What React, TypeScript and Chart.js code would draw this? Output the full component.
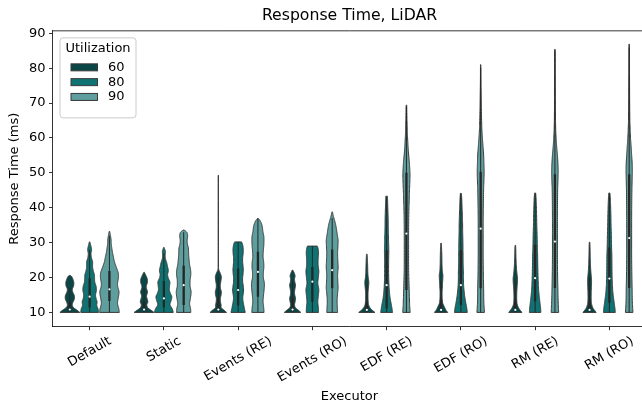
import React, { useEffect, useRef } from "react";
import { Chart, registerables } from "chart.js";

Chart.register(...registerables);

const categories = ["Default", "Static", "Events (RE)", "Events (RO)", "EDF (RE)", "EDF (RO)", "RM (RE)", "RM (RO)"];
const utilizations = ["60", "80", "90"];
const hueColors = ["#0b4646", "#0f7373", "#5f9e9e"];
const yTicks = [10, 20, 30, 40, 50, 60, 70, 80, 90];

// Violin profiles per category: for each utilization a list of [response time (ms), relative density]
const violinDefault = [
  [[10, 1.0], [10.6, 0.75], [11.3, 0.4], [12, 0.25], [12.8, 0.3], [13.8, 0.45], [14.8, 0.45], [15.8, 0.3], [16.6, 0.25], [17.6, 0.38], [18.6, 0.4], [19.6, 0.3], [20.3, 0.18], [20.6, 0.05]],
  [[10, 0.9], [11, 0.85], [12, 0.72], [13, 0.75], [14, 0.65], [15, 0.6], [16.3, 0.68], [17.5, 0.65], [18.7, 0.52], [19.8, 0.5], [20.8, 0.48], [21.8, 0.38], [23, 0.3], [24.5, 0.3], [25.7, 0.18], [26.9, 0.14], [27.9, 0.2], [28.8, 0.15], [29.6, 0.08], [30.2, 0.03]],
  [[10, 1.0], [11, 0.95], [12.5, 0.82], [14, 0.88], [15.9, 0.97], [17.2, 0.85], [18.3, 0.82], [19.8, 0.9], [21.2, 0.9], [22.3, 0.78], [23.3, 0.65], [24.6, 0.5], [26, 0.4], [27.3, 0.3], [28.5, 0.24], [29.7, 0.18], [30.8, 0.17], [31.8, 0.12], [32.6, 0.07], [33.2, 0.03]],
];
const violinStatic = [
  [[10, 1.0], [10.6, 0.72], [11.3, 0.38], [12.2, 0.28], [13, 0.38], [14, 0.3], [14.7, 0.25], [15.9, 0.35], [16.8, 0.25], [17.5, 0.22], [18.5, 0.33], [19.5, 0.33], [20.5, 0.2], [21.2, 0.08], [21.5, 0.03]],
  [[10, 0.95], [11, 0.85], [12.2, 0.62], [13.3, 0.72], [14.5, 0.8], [15.5, 0.65], [16.5, 0.55], [17.7, 0.58], [18.8, 0.6], [19.8, 0.45], [20.8, 0.38], [22, 0.45], [23, 0.38], [24.3, 0.28], [25.5, 0.15], [26.5, 0.13], [27.5, 0.15], [28.2, 0.08], [28.6, 0.03]],
  [[10, 0.72], [11, 0.7], [12.5, 0.6], [14, 0.68], [15.9, 0.75], [17.5, 0.65], [19.3, 0.65], [20.8, 0.72], [22.2, 0.7], [23.7, 0.6], [25, 0.55], [26.7, 0.5], [28.4, 0.48], [29.6, 0.38], [30.6, 0.35], [31.8, 0.4], [32.8, 0.35], [33.3, 0.2], [33.6, 0.05]],
];
const violinEventsRE = [
  [[10, 0.83], [10.6, 0.6], [11.3, 0.3], [12.1, 0.28], [13, 0.22], [14, 0.2], [15, 0.28], [15.9, 0.3], [16.9, 0.22], [17.8, 0.2], [18.8, 0.25], [20.2, 0.3], [21.2, 0.2], [22.1, 0.06], [23, 0.02], [30, 0.015], [49.3, 0.01]],
  [[10, 0.72], [11.6, 0.6], [14, 0.47], [16.4, 0.55], [19.3, 0.45], [22.1, 0.52], [25, 0.45], [27.8, 0.52], [29.5, 0.45], [30.2, 0.35]],
  [[10, 0.62], [11.5, 0.58], [13, 0.52], [14.5, 0.55], [16.4, 0.62], [18.3, 0.65], [20, 0.55], [21.5, 0.55], [23, 0.6], [24.5, 0.58], [26, 0.52], [27.8, 0.55], [29.5, 0.6], [31.7, 0.6], [33.2, 0.5], [34.5, 0.45], [35.5, 0.35], [36.4, 0.2], [36.9, 0.05]],
];
const violinEventsRO = [
  [[10, 0.83], [10.6, 0.6], [11.3, 0.3], [12.1, 0.2], [13, 0.25], [14, 0.3], [15, 0.22], [15.9, 0.2], [16.9, 0.25], [17.8, 0.3], [18.8, 0.22], [19.6, 0.2], [20.5, 0.25], [21.4, 0.15], [22.1, 0.04]],
  [[10, 0.62], [11.5, 0.6], [13, 0.55], [14.8, 0.6], [16.5, 0.65], [18.3, 0.55], [20, 0.6], [21.8, 0.65], [23.5, 0.58], [25.3, 0.58], [27, 0.62], [28.3, 0.58], [29, 0.5]],
  [[10, 0.55], [11.5, 0.52], [13.5, 0.5], [15.5, 0.55], [16.9, 0.6], [18.5, 0.58], [20.5, 0.55], [23, 0.6], [25, 0.57], [26.9, 0.55], [29, 0.58], [30.7, 0.6], [32.2, 0.52], [33.6, 0.45], [34.8, 0.38], [35.8, 0.3], [36.8, 0.2], [37.8, 0.1], [38.8, 0.03]],
];
const violinEdfRE = [
  [[10, 0.82], [10.5, 0.6], [11.1, 0.38], [12, 0.2], [13, 0.14], [14.5, 0.12], [16, 0.13], [17.5, 0.18], [18.8, 0.2], [20, 0.14], [21.5, 0.1], [23, 0.09], [24.5, 0.07], [26, 0.05], [26.7, 0.03]],
  [[10, 0.6], [11, 0.55], [12.6, 0.45], [14, 0.36], [15.4, 0.3], [17.5, 0.24], [20, 0.21], [23, 0.2], [25.5, 0.21], [27.8, 0.22], [30, 0.2], [32.6, 0.18], [35, 0.16], [37.4, 0.15], [40, 0.12], [42, 0.1], [43.3, 0.08]],
  [[10, 0.38], [12, 0.33], [14.5, 0.3], [18.3, 0.26], [21.5, 0.23], [25, 0.22], [28.5, 0.22], [32.6, 0.22], [36, 0.23], [39.3, 0.25], [42, 0.28], [44.1, 0.3], [47, 0.34], [49.8, 0.36], [52, 0.32], [53.6, 0.28], [56, 0.2], [58.4, 0.15], [61, 0.1], [63.2, 0.08], [66, 0.05], [69.4, 0.03]],
];
const violinEdfRO = [
  [[10, 0.67], [10.6, 0.5], [11.6, 0.33], [12.4, 0.2], [13, 0.14], [15, 0.1], [17, 0.12], [19.5, 0.17], [20.7, 0.18], [22, 0.12], [24, 0.09], [26, 0.08], [28, 0.06], [29.8, 0.03]],
  [[10, 0.65], [11.5, 0.58], [13, 0.48], [14.8, 0.38], [16.9, 0.3], [19, 0.26], [21.6, 0.25], [24, 0.23], [26.4, 0.22], [29, 0.21], [31.2, 0.2], [33.5, 0.18], [36, 0.17], [38.5, 0.14], [41, 0.11], [43, 0.08], [44.1, 0.05]],
  [[10, 0.38], [13, 0.32], [16.9, 0.3], [21, 0.27], [26.4, 0.25], [31, 0.25], [36, 0.25], [41, 0.27], [45.5, 0.3], [48, 0.33], [50.3, 0.35], [52.7, 0.33], [55.1, 0.3], [57.5, 0.24], [59.9, 0.18], [62, 0.13], [64.6, 0.1], [68, 0.07], [72, 0.05], [76, 0.03], [81, 0.02]],
];
const violinRmRE = [
  [[10, 0.67], [10.6, 0.5], [11.2, 0.35], [12.2, 0.2], [13.1, 0.15], [15, 0.14], [17, 0.17], [18.5, 0.21], [19.8, 0.22], [21, 0.17], [22.5, 0.12], [24.5, 0.08], [26.5, 0.06], [28, 0.05], [29.2, 0.03]],
  [[10, 0.58], [11, 0.56], [12.5, 0.5], [13.8, 0.45], [15, 0.4], [17, 0.34], [19.8, 0.3], [23, 0.27], [26.5, 0.25], [29, 0.22], [32, 0.2], [35, 0.17], [38, 0.15], [41, 0.12], [43, 0.09], [44.2, 0.06]],
  [[10, 0.38], [13, 0.33], [16.5, 0.3], [21, 0.27], [26.5, 0.25], [31, 0.25], [36, 0.25], [41, 0.26], [45.6, 0.28], [48, 0.31], [50.4, 0.33], [52.8, 0.3], [55.2, 0.25], [57.5, 0.18], [59.9, 0.12], [62.5, 0.08], [65, 0.06], [70, 0.04], [75, 0.03], [80, 0.025], [85.4, 0.02]],
];
const violinRmRO = [
  [[10, 0.67], [10.6, 0.5], [11.2, 0.35], [12.2, 0.22], [13.1, 0.17], [15, 0.16], [17, 0.18], [18.5, 0.2], [19.8, 0.19], [21, 0.15], [22.5, 0.11], [24.5, 0.08], [26.5, 0.06], [28.5, 0.05], [30.1, 0.03]],
  [[10, 0.6], [11, 0.57], [12.5, 0.5], [13.8, 0.44], [15, 0.38], [17, 0.32], [19.7, 0.28], [23, 0.26], [26.5, 0.25], [29, 0.22], [32, 0.2], [35, 0.17], [38, 0.15], [41, 0.12], [43, 0.09], [44.2, 0.06]],
  [[10, 0.38], [13, 0.32], [16.5, 0.3], [21, 0.27], [26.5, 0.25], [31, 0.25], [36, 0.25], [41, 0.26], [45.6, 0.28], [48, 0.3], [50.4, 0.32], [52.8, 0.3], [55.2, 0.25], [57.5, 0.2], [59.9, 0.14], [62.5, 0.1], [65, 0.07], [70, 0.05], [75, 0.04], [80, 0.03], [86.9, 0.02]],
];
const violinProfiles = [violinDefault, violinStatic, violinEventsRE, violinEventsRO, violinEdfRE, violinEdfRO, violinRmRE, violinRmRO];

// Inner box stats per category: [whisker low, q1, median, q3, whisker high] for 60 / 80 / 90
const boxDefault = [[10, 10.3, 10.8, 13, 17], [10, 11.5, 14.5, 19.8, 28], [10, 13.3, 16.6, 21.9, 32]];
const boxStatic = [[10, 10.3, 10.8, 13, 17], [10, 11.5, 14, 19, 27], [10, 12.1, 17.8, 23.4, 33]];
const boxEventsRE = [[10, 10.3, 10.8, 14, 20], [10, 12, 16.4, 22.6, 30.2], [10, 14.5, 21.6, 27.4, 36.9]];
const boxEventsRO = [[10, 10.3, 10.8, 14, 19], [10, 13, 18.8, 23, 29], [10, 16.9, 22.1, 28, 37]];
const boxEdfRE = [[10, 10.3, 10.7, 13, 18], [10, 11.1, 17.8, 27.8, 43], [10, 16.4, 32.6, 50, 69]];
const boxEdfRO = [[10, 10.3, 10.7, 13.5, 19], [10, 12.1, 17.8, 27.8, 44], [10, 16.9, 34, 50.3, 80]];
const boxRmRE = [[10, 10.3, 10.7, 13.5, 19], [10, 13.2, 19.8, 29.4, 44], [10, 17, 30.3, 49.6, 85]];
const boxRmRO = [[10, 10.3, 10.7, 13.5, 20], [10, 12.8, 19.7, 28.6, 44], [10, 17, 31.3, 49.6, 86]];
const boxStats = [boxDefault, boxStatic, boxEventsRE, boxEventsRO, boxEdfRE, boxEdfRO, boxRmRE, boxRmRO];

const FONT = "DejaVu Sans";

function smoothProfile(p: number[][]): number[][] {
  const out: number[][] = [];
  const n = p.length;
  const slope = (k: number) => {
    if (k === 0) return (p[1][1] - p[0][1]) / (p[1][0] - p[0][0]);
    if (k === n - 1) return (p[n - 1][1] - p[n - 2][1]) / (p[n - 1][0] - p[n - 2][0]);
    return (p[k + 1][1] - p[k - 1][1]) / (p[k + 1][0] - p[k - 1][0]);
  };
  for (let k = 0; k < n - 1; k++) {
    const [v0, w0] = p[k];
    const [v1, w1] = p[k + 1];
    const dv = v1 - v0;
    const m0 = slope(k) * dv;
    const m1 = slope(k + 1) * dv;
    const steps = 8;
    for (let s = 0; s < steps; s++) {
      const t = s / steps;
      const t2 = t * t, t3 = t2 * t;
      const w = (2 * t3 - 3 * t2 + 1) * w0 + (t3 - 2 * t2 + t) * m0 + (-2 * t3 + 3 * t2) * w1 + (t3 - t2) * m1;
      out.push([v0 + t * dv, Math.max(0.01, w)]);
    }
  }
  out.push([p[n - 1][0], Math.max(0.01, p[n - 1][1])]);
  return out;
}

const violinPlugin = {
  id: "violins",
  afterDatasetsDraw(chart: any) {
    const { ctx, chartArea, scales } = chart;
    const x = scales.x;
    const y = scales.y;
    const catW = x.getPixelForValue(1) - x.getPixelForValue(0);
    const slot = 0.8 / utilizations.length;
    const halfMax = (slot / 2) * catW;
    ctx.save();
    ctx.beginPath();
    ctx.rect(chartArea.left, chartArea.top, chartArea.right - chartArea.left, chartArea.bottom - chartArea.top);
    ctx.clip();
    categories.forEach((_, i) => {
      utilizations.forEach((__, h) => {
        const cx = x.getPixelForValue(i) + (h - 1) * slot * catW;
        const pts = smoothProfile(violinProfiles[i][h]);
        ctx.beginPath();
        pts.forEach(([v, w], k) => {
          const px = cx + w * halfMax;
          const py = y.getPixelForValue(v);
          if (k === 0) ctx.moveTo(px, py);
          else ctx.lineTo(px, py);
        });
        for (let k = pts.length - 1; k >= 0; k--) {
          const [v, w] = pts[k];
          ctx.lineTo(cx - w * halfMax, y.getPixelForValue(v));
        }
        ctx.closePath();
        ctx.fillStyle = hueColors[h];
        ctx.fill();
        ctx.lineWidth = 1;
        ctx.strokeStyle = "#3a3a3a";
        ctx.lineJoin = "round";
        ctx.stroke();

        const [lo, q1, med, q3, hi] = boxStats[i][h];
        ctx.strokeStyle = "#262626";
        ctx.lineCap = "butt";
        ctx.lineWidth = 1;
        ctx.beginPath();
        ctx.moveTo(cx, y.getPixelForValue(lo));
        ctx.lineTo(cx, y.getPixelForValue(hi));
        ctx.stroke();
        ctx.lineWidth = 2.3;
        ctx.beginPath();
        ctx.moveTo(cx, y.getPixelForValue(q1));
        ctx.lineTo(cx, y.getPixelForValue(q3));
        ctx.stroke();
        ctx.fillStyle = "#ffffff";
        ctx.beginPath();
        ctx.arc(cx, y.getPixelForValue(med), 1.1, 0, Math.PI * 2);
        ctx.fill();
      });
    });
    ctx.restore();

    // top & right spines
    ctx.save();
    ctx.strokeStyle = "#000";
    ctx.lineWidth = 0.8;
    ctx.beginPath();
    ctx.moveTo(chartArea.left, chartArea.top);
    ctx.lineTo(chartArea.right, chartArea.top);
    ctx.lineTo(chartArea.right, chartArea.bottom);
    ctx.stroke();
    ctx.restore();

    // rotated category labels
    ctx.save();
    ctx.font = `13px "${FONT}"`;
    ctx.fillStyle = "#000";
    ctx.textAlign = "center";
    ctx.textBaseline = "middle";
    const ang = (30 * Math.PI) / 180;
    categories.forEach((c, i) => {
      const tw = ctx.measureText(c).width;
      const bh = tw * Math.sin(ang) + 15 * Math.cos(ang);
      const cx = x.getPixelForValue(i);
      const cy = chartArea.bottom + 7 + bh / 2;
      ctx.save();
      ctx.translate(cx, cy);
      ctx.rotate(-ang);
      ctx.fillText(c, 0, 0);
      ctx.restore();
    });
    ctx.restore();

    // legend
    ctx.save();
    const lx = chartArea.left + 7;
    const ly = chartArea.top + 6.5;
    const lw = 76;
    const lh = 80;
    ctx.fillStyle = "rgba(255,255,255,0.8)";
    ctx.strokeStyle = "#cccccc";
    ctx.lineWidth = 1;
    ctx.beginPath();
    (ctx as any).roundRect(lx + 0.5, ly + 0.5, lw, lh, 3);
    ctx.fill();
    ctx.stroke();
    ctx.font = `13px "${FONT}"`;
    ctx.fillStyle = "#000";
    ctx.textAlign = "center";
    ctx.textBaseline = "middle";
    ctx.fillText("Utilization", lx + 38.5, ly + 11);
    ctx.textAlign = "left";
    utilizations.forEach((u, h) => {
      const ry = ly + 30 + h * 14.8;
      ctx.fillStyle = hueColors[h];
      ctx.fillRect(lx + 11.5, ry - 3.5, 26.5, 7);
      ctx.strokeStyle = "#3a3a3a";
      ctx.lineWidth = 1;
      ctx.strokeRect(lx + 11.5, ry - 3.5, 26.5, 7);
      ctx.fillStyle = "#000";
      ctx.fillText(u, lx + 48.5, ry);
    });
    ctx.restore();
  },
};

export default function App() {
  const ref = useRef<HTMLCanvasElement | null>(null);
  useEffect(() => {
    if (!ref.current) return;
    const chart = new Chart(ref.current, {
      type: "bar",
      data: { labels: categories, datasets: [] },
      options: {
        animation: false,
        responsive: false,
        devicePixelRatio: 1,
        layout: { padding: { left: 0, right: 53.5, top: 0, bottom: 0 } },
        plugins: {
          legend: { display: false },
          tooltip: { enabled: false },
          title: {
            display: true,
            text: "Response Time, LiDAR",
            fullSize: false,
            color: "#000",
            font: { family: FONT, size: 15.7, weight: "normal", lineHeight: 1.2 },
            padding: { top: 7, bottom: 5 },
          },
        },
        scales: {
          x: {
            type: "category",
            offset: true,
            grid: { offset: false, drawOnChartArea: false, drawTicks: true, tickLength: 3.5, color: "#000", lineWidth: 0.8 },
            border: { display: true, color: "#000", width: 0.8 },
            ticks: { display: false },
            title: {
              display: true,
              text: "Executor",
              color: "#000",
              font: { family: FONT, size: 13, lineHeight: 1.2 },
              padding: { top: 0, bottom: 0 },
            },
            afterFit: (s: any) => {
              s.height = 77.3;
            },
          },
          y: {
            type: "linear",
            min: 5.9,
            max: 90.7,
            afterBuildTicks: (s: any) => {
              s.ticks = yTicks.map((v) => ({ value: v }));
            },
            ticks: { color: "#000", font: { family: FONT, size: 13 }, padding: 3.5 },
            grid: { drawOnChartArea: false, drawTicks: true, tickLength: 3.5, color: "#000", lineWidth: 0.8 },
            border: { display: true, color: "#000", width: 0.8 },
            title: {
              display: true,
              text: "Response Time (ms)",
              color: "#000",
              font: { family: FONT, size: 13, lineHeight: 1.2 },
              padding: { top: 6.7, bottom: 0 },
            },
            afterFit: (s: any) => {
              s.width = 52.5;
            },
          },
        },
      } as any,
      plugins: [violinPlugin],
    });
    return () => chart.destroy();
  }, []);
  return (
    <div style={{ position: "absolute", left: 0, top: 0, width: 642, height: 404, overflow: "hidden", background: "#fff" }}>
      <canvas ref={ref} width={700} height={404} style={{ display: "block" }} />
    </div>
  );
}
